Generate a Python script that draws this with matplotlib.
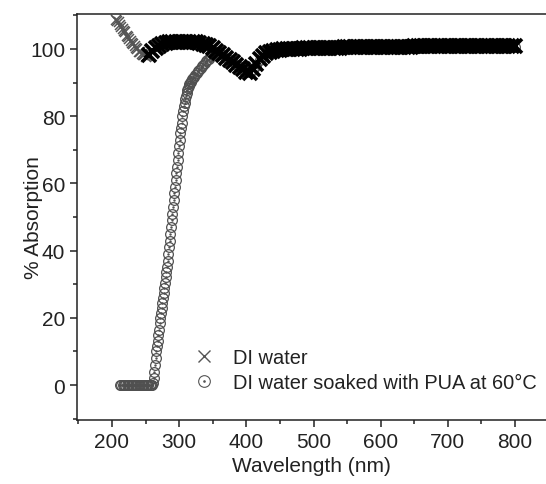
import matplotlib
matplotlib.use('Agg')
import matplotlib.pyplot as plt
from matplotlib.lines import Line2D
from matplotlib.legend_handler import HandlerTuple
from matplotlib.ticker import MultipleLocator

plt.rcParams['font.family'] = ['Liberation Sans', 'DejaVu Sans']
plt.rcParams['font.size'] = 15

# DI water: noisy X markers at the short-wavelength end
wl_di_start = [206, 208, 210, 212, 214, 216, 218, 220, 222, 224, 226, 228,
               230, 232, 234, 236, 238, 240, 242, 244, 246, 248, 250, 252]
abs_di_start = [108.6, 108.2, 107.9, 107.0, 106.6, 105.8, 105.2, 104.9, 104.0,
                103.5, 103.1, 102.4, 101.8, 101.5, 100.8, 100.3, 99.9, 99.2,
                99.0, 98.6, 98.1, 98.3, 97.6, 97.8]

# DI water: dense band, every 5 nm from 255 to 800 nm
wl_di_band = list(range(255, 805, 5))
abs_di_band = [98.3, 99.3, 100.3, 101.0, 101.5, 101.8, 102.0, 102.1, 102.2, 102.2,
               102.2, 102.1, 102.1, 102.0, 102.0, 101.8, 101.6, 101.3, 100.8, 100.2,
               99.5, 98.8, 98.1, 97.4, 96.7, 96.0, 95.3, 94.6, 93.9, 93.2,
               92.8, 94.0, 95.6, 97.0, 98.0, 98.7, 99.2, 99.5, 99.7, 99.8,
               99.9, 100.0, 100.0, 100.1, 100.1, 100.1, 100.2, 100.2, 100.2, 100.3,
               100.3, 100.3, 100.3, 100.4, 100.4, 100.4, 100.4, 100.4, 100.5, 100.5,
               100.5, 100.5, 100.5, 100.5, 100.6, 100.6, 100.6, 100.6, 100.6, 100.6,
               100.6, 100.7, 100.7, 100.7, 100.7, 100.7, 100.7, 100.7, 100.7, 100.8,
               100.8, 100.8, 100.8, 100.8, 100.8, 100.8, 100.8, 100.8, 100.8, 100.8,
               100.8, 100.9, 100.9, 100.9, 100.9, 100.9, 100.9, 100.9, 100.9, 100.9,
               100.9, 100.9, 100.9, 100.9, 100.9, 100.9, 100.9, 100.9, 100.9, 100.9]

# DI water soaked with PUA at 60 C
wl_pua = ([212, 214, 216, 218, 220, 222, 224, 226, 228, 230, 232, 234, 236,
           238, 240, 242, 244, 246, 248, 250, 252, 254, 256, 258, 260]
          + list(range(261, 321))
          + list(range(322, 362, 2))
          + [365, 370, 375, 380, 385, 390, 395, 400, 405, 410, 415, 420, 425,
             430, 435, 440, 450, 460, 470, 480, 500, 520, 540, 560, 580, 600,
             620, 640, 660, 680, 700, 720, 740, 760, 780, 800])
abs_pua = ([0.0] * 25
           + [0.5, 2, 4, 6, 8, 10, 11.5, 13, 15, 16.5, 18.5, 20, 21.5, 23, 24.5,
              26, 27.5, 29, 30.5, 32, 33.5, 35, 37, 39, 41, 43, 45, 47, 49, 51,
              53, 55, 57, 59, 61, 63, 65, 67, 69, 71, 73, 75, 76.5, 78, 80,
              81.5, 83, 84, 85, 86, 87, 87.8, 88.5, 89, 89.5, 90, 90.3, 90.6, 91, 91.3]
           + [91.8, 92.3, 92.8, 93.3, 93.8, 94.3, 94.8, 95.3, 95.8, 96.3,
              96.7, 97.1, 97.5, 97.8, 98.1, 98.4, 98.7, 99.0, 99.1, 99.0]
           + [98.2, 97.4, 96.7, 96.0, 95.2, 94.5, 93.8, 93.2, 93.0, 93.8, 95.0,
              96.6, 97.8, 98.6, 99.0, 99.2, 99.4, 99.6, 99.7, 99.8, 100.0, 100.1,
              100.2, 100.2, 100.3, 100.3, 100.4, 100.4, 100.4, 100.5, 100.5, 100.5,
              100.5, 100.6, 100.6, 100.6])

text_col = '#222222'

fig = plt.figure(figsize=(5.46, 4.85), dpi=100)
ax = fig.add_axes([77 / 546, 1 - 421 / 485, 469 / 546, 406 / 485])

ax.plot(wl_pua, abs_pua, ls='none', marker='o', ms=7, mfc='none',
        mec='#505050', mew=0.9)
ax.plot(wl_pua, abs_pua, ls='none', marker='.', ms=1.5, color='#505050')
ax.plot(wl_di_start, abs_di_start, ls='none', marker='x', ms=7.5, mew=1.1,
        color='#555555')
ax.plot(wl_di_band, abs_di_band, ls='none', marker='x', ms=9.5, mew=2.6,
        color='black')

ax.set_xlim(148, 846)
ax.set_ylim(-10.4, 110.4)
ax.xaxis.set_major_locator(MultipleLocator(100))
ax.xaxis.set_minor_locator(MultipleLocator(50))
ax.yaxis.set_major_locator(MultipleLocator(20))
ax.yaxis.set_minor_locator(MultipleLocator(10))
ax.tick_params(which='major', direction='out', length=5, width=1.1,
               colors=text_col, labelcolor=text_col)
ax.tick_params(which='minor', direction='out', length=3, width=1.1,
               colors=text_col)
for s in ['left', 'bottom', 'top']:
    ax.spines[s].set_linewidth(1.1)
    ax.spines[s].set_color(text_col)
ax.spines['right'].set_visible(False)

ax.set_xlabel('Wavelength (nm)', color=text_col)
ax.set_ylabel('% Absorption', color=text_col)
ax.xaxis.set_label_coords(0.5, -0.088)
ax.yaxis.set_label_coords(-0.072, 0.5)

h_di = Line2D([], [], ls='none', marker='x', ms=7, mew=1.0, color='#555555')
h_o = Line2D([], [], ls='none', marker='o', ms=7, mfc='none', mec='#555555', mew=0.8)
h_dot = Line2D([], [], ls='none', marker='.', ms=1.5, color='#555555')
leg = ax.legend([h_di, (h_o, h_dot)],
                ['DI water', 'DI water soaked with PUA at 60°C'],
                handler_map={tuple: HandlerTuple(ndivide=1, pad=0)},
                loc='lower left', bbox_to_anchor=(0.2485, 0.069),
                frameon=False, borderpad=0, borderaxespad=0, fontsize=14.4,
                handlelength=1.0, handletextpad=0.95, labelspacing=0.3,
                markerscale=1.2)
for t in leg.get_texts():
    t.set_color(text_col)

fig.savefig('out.png', dpi=100)
